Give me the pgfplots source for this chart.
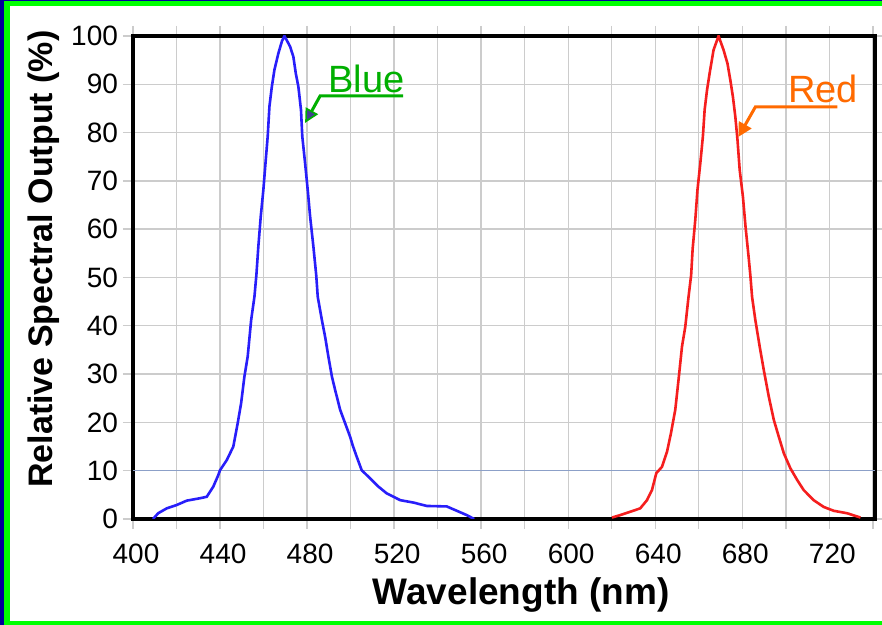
\documentclass[border=0pt]{standalone}
\usepackage{fontspec}
\setmainfont{Liberation Sans}
\usepackage{pgfplots}
\pgfplotsset{compat=1.18}
\usetikzlibrary{arrows.meta}

\definecolor{frameblue}{RGB}{0,0,155}
\definecolor{framegreen}{RGB}{0,255,0}
\definecolor{gridgray}{RGB}{204,204,204}
\definecolor{tenline}{RGB}{140,160,200}
\definecolor{curveblue}{RGB}{40,30,250}
\definecolor{curvered}{RGB}{245,30,30}
\definecolor{notegreen}{RGB}{0,175,0}
\definecolor{noteorange}{RGB}{255,106,0}
\definecolor{headslate}{RGB}{65,65,145}

\begin{document}
\begin{tikzpicture}
\useasboundingbox (0,0) rectangle (441pt,312.5pt);
\fill[frameblue] (0,0) rectangle (441pt,312.5pt);
\fill[framegreen] (2pt,0) rectangle (441pt,312pt);
\fill[white] (5pt,2pt) rectangle (441pt,309.5pt);

\begin{axis}[
    at={(66.5pt,53pt)}, anchor=south west,
    scale only axis,
    width=371pt, height=241.5pt,
    xmin=400, xmax=741,
    ymin=0, ymax=100,
    xtick={400,440,...,720},
    minor xtick={420,460,...,740},
    ytick={0,10,...,100},
    grid=both,
    grid style={gridgray, line width=0.7pt},
    minor grid style={gridgray, line width=0.7pt},
    tick align=outside,
    major tick length=5pt,
    minor tick length=5pt,
    tick style={gridgray, line width=0.7pt},
    axis line style={black, line width=2pt, line cap=rect},
    ticklabel style={font=\fontsize{14pt}{14pt}\selectfont},
    xticklabel style={yshift=-4pt, xshift=1.5pt},
    yticklabel style={xshift=1pt},
    /pgf/number format/assume math mode=true,
    /pgf/number format/set thousands separator={},
    xlabel={Wavelength (nm)},
    ylabel={Relative Spectral Output (\%)},
    xlabel style={font=\fontsize{18.5pt}{18.5pt}\selectfont\bfseries,
        at={(axis description cs:0.523,-0.178)}, anchor=base},
    ylabel style={font=\fontsize{17pt}{17pt}\selectfont\bfseries,
        at={(axis description cs:-0.108,0.538)}, anchor=base},
]

\draw[tenline, line width=0.6pt] (axis cs:400,10) -- (axis cs:741,10);
\draw[tenline, line width=1pt] (axis cs:400,0) -- ++(-5pt,0);

% blue LED
\addplot[curveblue, line width=1.3pt, mark=none] table {
409.2 0
411.6 1.2
415.5 2.2
420.1 2.9
424.7 3.8
430.8 4.3
433.9 4.6
436.9 6.7
439.2 9.1
440.0 10.1
443.1 12.2
446.1 15.0
448.1 19.8
449.7 24.0
451.2 29.5
452.7 33.6
454.3 41.2
455.8 46.0
456.7 50.5
457.6 56.4
458.7 62.6
459.9 68.1
461.0 74.3
461.9 79.2
462.7 85.4
463.8 89.5
465.0 93.0
466.8 96.4
468.5 99.0
469.6 100
470.8 99.0
472.2 97.8
473.7 95.7
474.8 92.3
476.0 89.5
477.2 84.7
477.8 79.2
479.1 73.6
480.3 68.1
481.4 62.6
482.9 56.4
484.2 50.5
484.9 46.0
486.8 41.2
488.3 37.7
489.8 33.6
491.4 29.5
492.9 26.7
495.2 22.6
497.5 19.8
499.8 17.0
501.0 15.2
502.8 12.9
505.1 10.1
509.0 8.4
512.8 6.7
516.6 5.3
522.8 3.9
528.9 3.4
535.0 2.7
544.2 2.6
548.8 1.7
553.4 0.8
556.8 0
};

% red LED
\addplot[curvered, line width=1.3pt, mark=none] table {
620.1 0.3
623.9 0.8
628.5 1.5
633.1 2.2
636.2 3.9
638.5 6.0
640.5 9.5
643.1 10.8
645.4 13.9
647.2 17.7
649.2 22.6
650.7 28.8
652.3 35.7
653.8 39.8
655.3 46.0
656.5 50.5
657.2 56.0
658.4 61.9
659.4 68.1
660.7 73.6
661.9 79.2
662.7 84.7
663.8 88.8
665.0 92.3
666.8 97.1
669.1 100
671.4 97.1
673.2 94.3
674.5 90.9
675.7 87.4
676.8 83.3
677.8 78.5
678.8 72.3
680.3 66.7
681.5 60.5
682.9 54.3
683.7 50.5
684.5 46.0
686.0 41.2
688.0 35.7
689.9 30.8
692.2 25.3
694.5 20.5
696.8 17.0
699.1 13.6
702.1 10.5
705.2 8.1
708.2 6.0
712.8 3.9
717.4 2.5
722.0 1.7
728.1 1.2
734.3 0.3
};

% callouts
\draw[notegreen, line width=1.5pt,
    -{Triangle[length=7pt, width=7pt, fill=headslate, line width=0.8pt]}]
    (axis cs:524.1,87.6) -- (axis cs:486.0,87.6) -- (axis cs:479.1,82.0);
\node[notegreen, anchor=base west, inner sep=0pt,
    font=\fontsize{19pt}{19pt}\selectfont] at (axis cs:489.7,88.4) {Blue};

\draw[noteorange, line width=1.5pt,
    -{Triangle[length=7pt, width=7pt]}]
    (axis cs:723.7,85.3) -- (axis cs:686.0,85.3) -- (axis cs:678.2,79.1);
\node[noteorange, anchor=base west, inner sep=0pt,
    font=\fontsize{19pt}{19pt}\selectfont] at (axis cs:700.9,86.3) {Red};

\end{axis}
\end{tikzpicture}
\end{document}
